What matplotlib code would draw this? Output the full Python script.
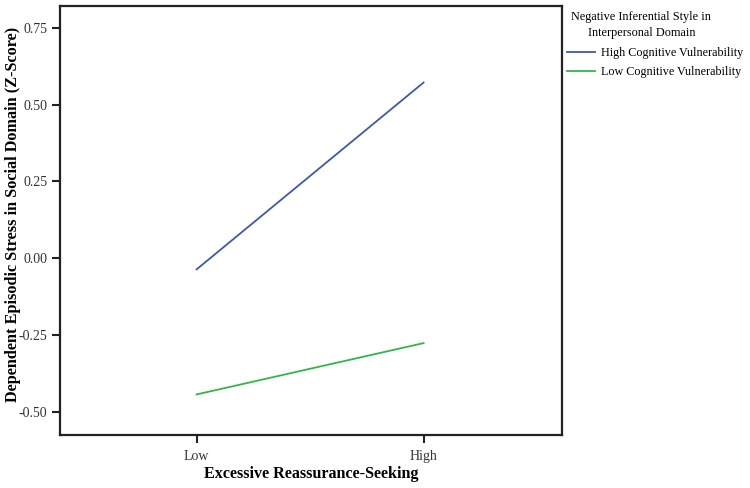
import matplotlib
matplotlib.use("Agg")
import matplotlib.pyplot as plt
from matplotlib.lines import Line2D

plt.rcParams['font.family'] = ['Liberation Serif', 'DejaVu Serif']

categories = ["Low", "High"]
high_vuln = [-0.036, 0.572]
low_vuln = [-0.443, -0.276]
yticks = [-0.50, -0.25, 0.00, 0.25, 0.50, 0.75]
series_names = ["High Cognitive Vulnerability", "Low Cognitive Vulnerability"]
colors = ["#3E58AC", "#2EB848"]

fig = plt.figure(figsize=(7.5, 4.88), dpi=100)
ax = fig.add_axes([60/750, 1-435/488, 502/750, 429/488])

x = list(range(len(categories)))
ax.plot(x, high_vuln, color=colors[0], lw=1.3)
ax.plot(x, low_vuln, color=colors[1], lw=1.3)

ax.set_xlim(-0.602, 1.61)
ax.set_ylim(-0.575, 0.821)
ax.set_xticks(x)
ax.set_xticklabels(categories, fontsize=10)
ax.set_yticks(yticks)
ax.set_yticklabels([f"{v:.2f}" for v in yticks], fontsize=10)
ax.tick_params(direction='out', length=6, width=1.5, color='#222222', labelcolor='#333333', pad=3)
ax.tick_params(axis='x', pad=5)
for s in ax.spines.values():
    s.set_linewidth(1.6)
    s.set_color('#222222')

ax.set_xlabel("Excessive Reassurance-Seeking", fontsize=11.6, fontweight='bold', labelpad=2)
ax.set_ylabel("Dependent Episodic Stress in Social Domain (Z-Score)", fontsize=11.7, fontweight='bold')
ax.yaxis.set_label_coords(-0.078, 0.513)

fig.text(641/750, 1-17/488, "Negative Inferential Style in", fontsize=8.8, ha='center', va='center')
fig.text(642/750, 1-33/488, "Interpersonal Domain", fontsize=8.8, ha='center', va='center')

handles = [Line2D([0], [0], color=c, lw=1.3) for c in colors]
leg = fig.legend(handles, series_names,
                 loc='upper left', bbox_to_anchor=(567/750, 1-47/488), frameon=False,
                 fontsize=8.7, handlelength=2.3, handletextpad=0.5,
                 labelspacing=0.6, borderaxespad=0, borderpad=0)

fig.savefig("out.png", dpi=100)
